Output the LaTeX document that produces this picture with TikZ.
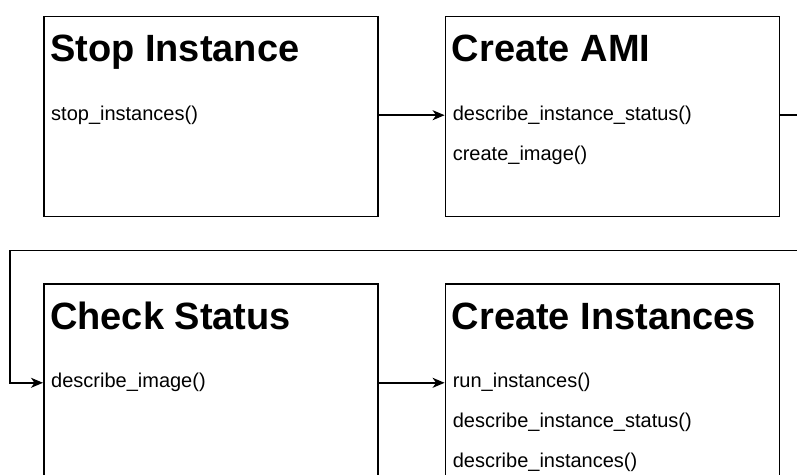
\documentclass[tikz,border=0pt]{standalone}
\usepackage{fontspec}
\setmainfont{Liberation Sans}
\usetikzlibrary{arrows.meta, positioning, calc}

\begin{document}
\begin{tikzpicture}[
    node distance=66pt,
    >={Stealth[length=12pt, width=10pt, inset=3.5pt]},
    box/.style={rectangle, draw=black, line width=1.6pt, minimum width=334pt, minimum height=200pt, inner sep=0pt},
    heading/.style={anchor=base west, inner sep=0pt, font=\fontsize{38}{44}\selectfont\bfseries},
    item/.style={anchor=west, inner xsep=8pt, inner ysep=0pt, text height=14pt, text depth=4pt, font=\fontsize{20}{24}\selectfont},
    flow/.style={->, line width=1.6pt}
  ]
    \clip (0,0) rectangle (797pt,-474pt);

    % the four steps
    \node[box, anchor=north west] (stop) at (43pt,-15.7pt) {};
    \node[box, right=of stop] (ami) {};
    \node[box, below=of stop] (check) {};
    \node[box, right=of check] (create) {};

    \node[heading] (stopT) at ([xshift=7pt, yshift=-46pt]stop.north west) {Stop Instance};
    \node[heading] (amiT) at ([xshift=7pt, yshift=-46pt]ami.north west) {Create AMI};
    \node[heading] (checkT) at ([xshift=7pt, yshift=-46pt]check.north west) {Check Status};
    \node[heading] (createT) at ([xshift=7pt, yshift=-46pt]create.north west) {Create Instances};

    % api calls of each step
    \node[item] (stop1) at ([yshift=-99.5pt]stop.north west) {stop\_instances()};
    \node[item] (ami1) at ([yshift=-99.5pt]ami.north west) {describe\_instance\_status()};
    \node[item] (ami2) at ([yshift=-139.5pt]ami.north west) {create\_image()};
    \node[item] (check1) at ([yshift=-99.5pt]check.north west) {describe\_image()};
    \node[item] (create1) at ([yshift=-99.5pt]create.north west) {run\_instances()};
    \node[item] (create2) at ([yshift=-139.5pt]create.north west) {describe\_instance\_status()};
    \node[item] (create3) at ([yshift=-179.5pt]create.north west) {describe\_instances()};

    % turning points of the loop back to the second row
    \coordinate (gapR) at ($(ami.south east)!.5!(create.north east) + (33pt,0)$);
    \coordinate (gapL) at ($(stop.south west)!.5!(check.north west) + (-33pt,0)$);

    \draw[flow] (stop1 -| stop.east) -- (ami1.west);
    \draw[flow] (ami1 -| ami.east) -| (gapR) -- (gapL) |- (check1.west);
    \draw[flow] (check1 -| check.east) -- (create1.west);
  \end{tikzpicture}
\end{document}
